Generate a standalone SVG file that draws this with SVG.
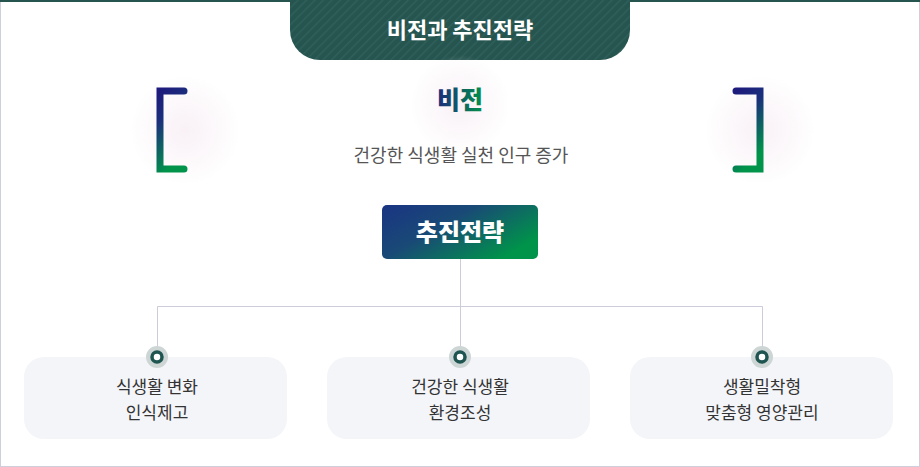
<svg xmlns="http://www.w3.org/2000/svg" width="920" height="467" viewBox="0 0 920 467">
<style>
.kr{font-family:"Noto Sans CJK KR","Noto Sans",sans-serif}
.item{font-size:17px;fill:#333;text-anchor:middle}
.card{fill:#f4f5f9}
.conn{stroke:#cdccdb;stroke-width:1;fill:none}
.br{fill:none;stroke-width:7;stroke-linecap:round;stroke-linejoin:miter}
</style>
<defs>
<pattern id="stripe" width="6" height="6" patternUnits="userSpaceOnUse" patternTransform="rotate(45)">
<rect width="6" height="6" fill="#26544f"/>
<rect width="1.5" height="6" fill="#2f605b"/>
</pattern>
<linearGradient id="bg1" x1="0" y1="0" x2="0.3" y2="1">
<stop offset="0" stop-color="#1d1b7c"/>
<stop offset="0.35" stop-color="#1b2f7c"/>
<stop offset="1" stop-color="#00934a"/>
</linearGradient>
<linearGradient id="tg" x1="0" y1="0" x2="1" y2="0">
<stop offset="0" stop-color="#1d2a7e"/>
<stop offset="1" stop-color="#00924a"/>
</linearGradient>
<linearGradient id="boxg" x1="0" y1="0" x2="1" y2="0.6">
<stop offset="0" stop-color="#1a3483"/>
<stop offset="0.45" stop-color="#194a76"/>
<stop offset="1" stop-color="#00934a"/>
</linearGradient>
<radialGradient id="glow">
<stop offset="0" stop-color="#f7edf4" stop-opacity="0.8"/>
<stop offset="1" stop-color="#f7edf4" stop-opacity="0"/>
</radialGradient>
</defs>
<rect x="0.5" y="0.5" width="919" height="466" fill="#fff" stroke="#cfcfdc"/>
<rect x="0" y="0" width="920" height="2" fill="#26544f"/>
<g id="title">
<path d="M290 0 H630 V30 A30 30 0 0 1 600 60 H320 A30 30 0 0 1 290 30 Z" fill="url(#stripe)"/>
<text x="460" y="38" class="kr" font-size="22" font-weight="700" fill="#fff" text-anchor="middle">비전과 추진전략</text>
</g>
<g id="vision">
<circle cx="185" cy="130" r="55" fill="url(#glow)"/>
<circle cx="760" cy="130" r="55" fill="url(#glow)"/>
<circle cx="460" cy="105" r="50" fill="url(#glow)"/>
<path class="br" d="M184 91 H160 V169 H184" stroke="url(#bg1)"/>
<path class="br" d="M736 91 H760 V169 H736" stroke="url(#bg1)"/>
<text x="460" y="109" class="kr" font-size="25" font-weight="900" fill="url(#tg)" text-anchor="middle">비전</text>
<text x="461" y="162" class="kr" font-size="18" fill="#555" text-anchor="middle">건강한 식생활 실천 인구 증가</text>
</g>
<g id="strategy">
<rect x="382" y="205" width="156" height="54" rx="5" fill="url(#boxg)"/>
<text x="460" y="241" class="kr" font-size="24" font-weight="900" fill="#fff" text-anchor="middle">추진전략</text>
</g>
<g id="connectors">
<path class="conn" d="M460.5 259 V357"/>
<path class="conn" d="M157.5 354 V306.5 H762.5 V354"/>
</g>
<g id="node1">
<rect class="card" x="24" y="357" width="263" height="82" rx="20"/>
<circle cx="157" cy="357" r="11" fill="#cdd6d5"/>
<circle cx="157" cy="357" r="5" fill="#fff" stroke="#1f5550" stroke-width="3.5"/>
<text class="kr item" x="157" y="393">식생활 변화</text>
<text class="kr item" x="157" y="419">인식제고</text>
</g>
<g id="node2">
<rect class="card" x="327" y="357" width="263" height="82" rx="20"/>
<circle cx="460" cy="357" r="11" fill="#cdd6d5"/>
<circle cx="460" cy="357" r="5" fill="#fff" stroke="#1f5550" stroke-width="3.5"/>
<text class="kr item" x="460" y="393">건강한 식생활</text>
<text class="kr item" x="460" y="419">환경조성</text>
</g>
<g id="node3">
<rect class="card" x="630" y="357" width="263" height="82" rx="20"/>
<circle cx="762" cy="357" r="11" fill="#cdd6d5"/>
<circle cx="762" cy="357" r="5" fill="#fff" stroke="#1f5550" stroke-width="3.5"/>
<text class="kr item" x="762" y="393">생활밀착형</text>
<text class="kr item" x="762" y="419">맞춤형 영양관리</text>
</g>
</svg>
